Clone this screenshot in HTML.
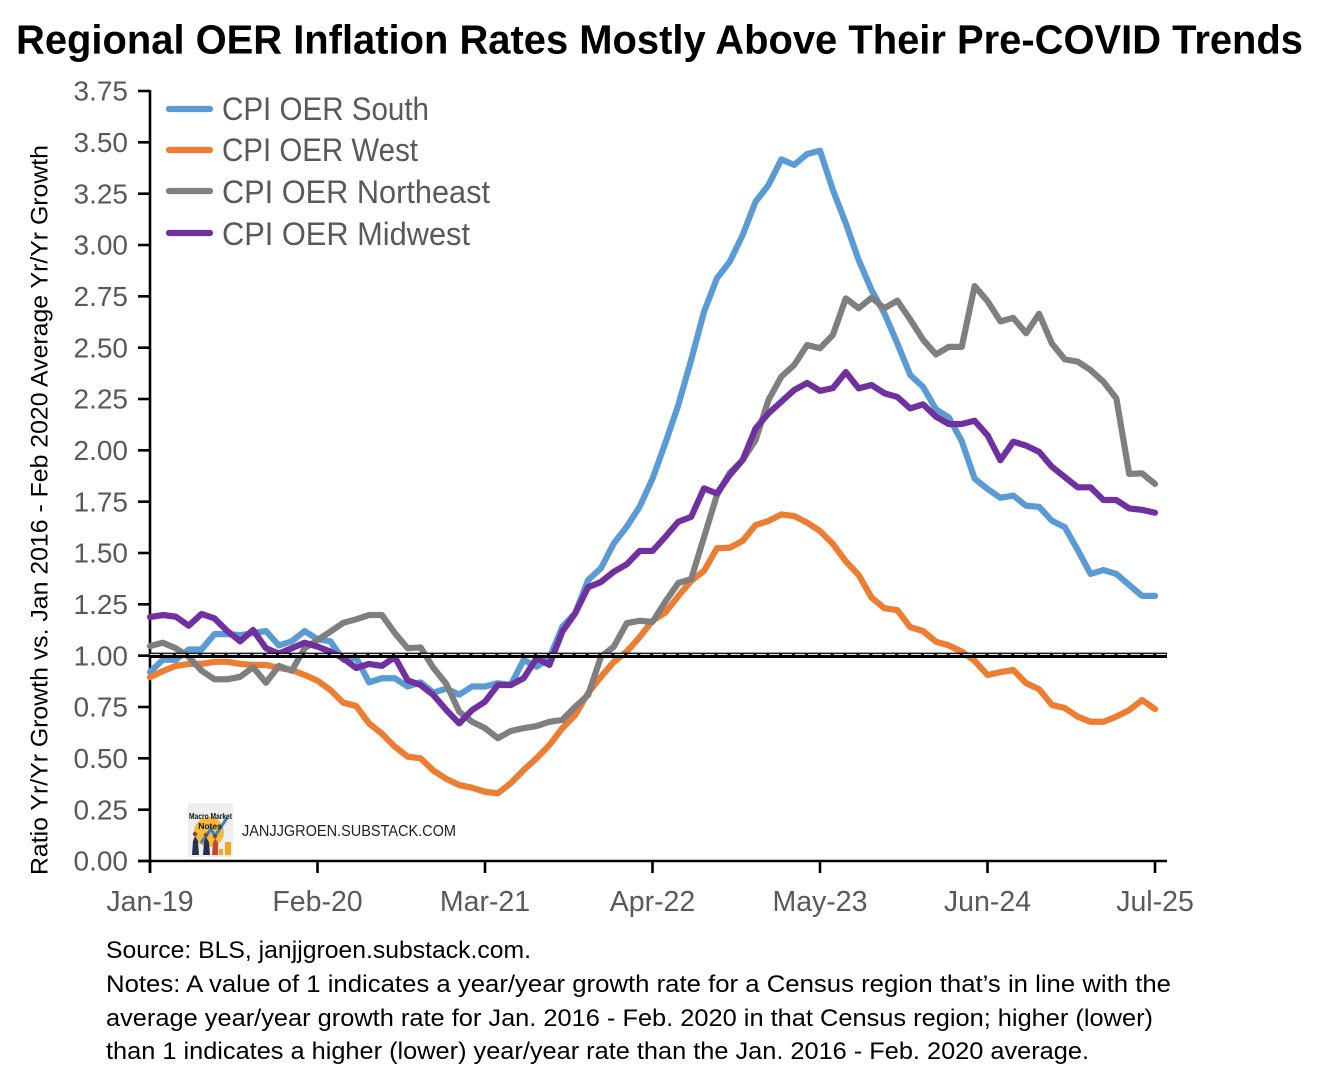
<!DOCTYPE html>
<html lang="en">
<head>
<meta charset="utf-8">
<title>Regional OER Inflation Rates</title>
<style>
html,body{margin:0;padding:0;background:#fff;}
#chart{display:block;width:1317px;height:1080px;font-family:"Liberation Sans",Arial,sans-serif;}
</style>
</head>
<body>
<svg id="chart" xmlns="http://www.w3.org/2000/svg" width="1317" height="1080" viewBox="0 0 1317 1080">
  <rect x="0" y="0" width="1317" height="1080" fill="#ffffff"/>
  <text x="16" y="53.5" font-size="40.5" font-weight="bold" fill="#000" textLength="1287" lengthAdjust="spacingAndGlyphs">Regional OER Inflation Rates Mostly Above Their Pre-COVID Trends</text>
  <g id="axes"></g>
  <g id="series"></g>
  <g id="reference"></g>
  <g id="legend"></g>
  <text transform="translate(47.5,510) rotate(-90)" text-anchor="middle" font-size="24.5" fill="#000" textLength="730" lengthAdjust="spacingAndGlyphs">Ratio Yr/Yr Growth vs. Jan 2016 - Feb 2020 Average Yr/Yr Growth</text>

  <g>
    <rect x="188" y="803" width="45" height="54" fill="#efefef"/>
    <circle cx="209" cy="832" r="15" fill="#f6b93b"/>
    <path d="M201 843 L211 829 L215 836 L227 818" fill="none" stroke="#3f7fc4" stroke-width="3"/>
    <text x="210.5" y="819" text-anchor="middle" font-size="8.5" font-weight="bold" fill="#111" textLength="43" lengthAdjust="spacingAndGlyphs">Macro Market</text>
    <text x="210" y="829" text-anchor="middle" font-size="8.5" font-weight="bold" fill="#111">Notes</text>
    <path d="M192 855 L193 841 L195 836 L198 841 L199 855 Z" fill="#27324f"/>
    <circle cx="195" cy="834" r="2.2" fill="#7a4a30"/>
    <path d="M203 855 L204 842 L206 837 L209 842 L210 855 Z" fill="#27324f"/>
    <circle cx="206" cy="835" r="2.2" fill="#7a4a30"/>
    <path d="M212 855 L213 843 L215 838 L218 843 L218 855 Z" fill="#c9442f"/>
    <circle cx="215" cy="836" r="2.2" fill="#7a4a30"/>
    <rect x="219" y="849" width="4" height="6" fill="#f5a623"/>
    <rect x="225" y="842" width="6" height="13" fill="#f5a623"/>
  </g>
  <text x="242" y="836" font-size="15.5" fill="#222" textLength="214" lengthAdjust="spacingAndGlyphs">JANJJGROEN.SUBSTACK.COM</text>

  <g font-size="24.5" fill="#000">
    <text x="106" y="958" textLength="425" lengthAdjust="spacingAndGlyphs">Source: BLS, janjjgroen.substack.com.</text>
    <text x="106" y="992" textLength="1065" lengthAdjust="spacingAndGlyphs">Notes: A value of 1 indicates a year/year growth rate for a Census region that’s in line with the</text>
    <text x="106" y="1026" textLength="1047" lengthAdjust="spacingAndGlyphs">average year/year growth rate for Jan. 2016 - Feb. 2020 in that Census region; higher (lower)</text>
    <text x="106" y="1059" textLength="983" lengthAdjust="spacingAndGlyphs">than 1 indicates a higher (lower) year/year rate than the Jan. 2016 - Feb. 2020 average.</text>
  </g>
</svg>

<script>
const yTicks = [0, 0.25, 0.5, 0.75, 1, 1.25, 1.5, 1.75, 2, 2.25, 2.5, 2.75, 3, 3.25, 3.5, 3.75];
const xTickMonths = [0, 13, 26, 39, 52, 65, 78];
const xTickLabels = ["Jan-19", "Feb-20", "Mar-21", "Apr-22", "May-23", "Jun-24", "Jul-25"];
const referenceValue = 1;

const south = [0.92,0.98,0.98,1.03,1.03,1.105,1.105,1.10,1.11,1.12,1.05,1.07,1.12,1.08,1.07,0.98,0.99,0.87,0.89,0.89,0.85,0.87,0.82,0.84,0.81,0.85,0.85,0.866,0.857,0.979,0.946,0.987,1.141,1.207,1.368,1.426,1.547,1.628,1.725,1.862,2.036,2.22,2.44,2.675,2.838,2.919,3.049,3.211,3.292,3.417,3.39,3.443,3.459,3.268,3.106,2.927,2.781,2.667,2.521,2.367,2.309,2.2,2.16,2.045,1.862,1.812,1.769,1.78,1.73,1.725,1.657,1.626,1.515,1.398,1.417,1.398,1.344,1.291,1.291];
const west = [0.895,0.925,0.95,0.96,0.96,0.97,0.97,0.96,0.955,0.955,0.94,0.93,0.906,0.878,0.833,0.771,0.755,0.67,0.62,0.557,0.508,0.50,0.44,0.40,0.37,0.357,0.337,0.33,0.379,0.443,0.5,0.565,0.647,0.711,0.818,0.897,0.97,1.02,1.09,1.17,1.21,1.29,1.364,1.413,1.523,1.526,1.559,1.636,1.656,1.688,1.68,1.648,1.607,1.544,1.46,1.393,1.283,1.231,1.222,1.139,1.12,1.068,1.05,1.02,0.975,0.906,0.92,0.93,0.866,0.837,0.76,0.745,0.703,0.678,0.678,0.703,0.735,0.784,0.74];
const northeast = [1.047,1.063,1.036,0.995,0.927,0.885,0.885,0.897,0.944,0.868,0.95,0.927,1.036,1.076,1.117,1.16,1.177,1.198,1.198,1.11,1.036,1.04,0.94,0.862,0.727,0.678,0.647,0.598,0.633,0.647,0.657,0.678,0.687,0.751,0.808,0.995,1.044,1.158,1.17,1.164,1.263,1.354,1.373,1.578,1.782,1.89,1.953,2.05,2.245,2.359,2.416,2.513,2.497,2.562,2.74,2.692,2.743,2.692,2.729,2.637,2.539,2.467,2.504,2.504,2.80,2.727,2.628,2.645,2.57,2.665,2.52,2.443,2.432,2.391,2.334,2.253,1.885,1.888,1.836];
const midwest = [1.188,1.198,1.19,1.146,1.203,1.182,1.12,1.07,1.125,1.036,1.01,1.036,1.063,1.044,1.02,0.987,0.94,0.96,0.95,0.993,0.88,0.857,0.808,0.735,0.67,0.735,0.776,0.857,0.857,0.89,0.987,0.955,1.117,1.206,1.333,1.359,1.409,1.445,1.51,1.51,1.579,1.652,1.676,1.815,1.79,1.88,1.953,2.107,2.18,2.237,2.294,2.328,2.29,2.303,2.381,2.302,2.318,2.278,2.26,2.204,2.224,2.164,2.128,2.128,2.144,2.074,1.952,2.042,2.023,1.993,1.92,1.87,1.82,1.82,1.758,1.758,1.717,1.71,1.696];

const NS = "http://www.w3.org/2000/svg";
const plot = { left: 150, right: 1155, axisEnd: 1167, top: 91, bottom: 861 };
const monthCount = south.length - 1;
const yMax = yTicks[yTicks.length - 1];
function xScale(month) { return plot.left + (plot.right - plot.left) * month / monthCount; }
function yScale(value) { return plot.bottom - (plot.bottom - plot.top) * value / yMax; }
function make(tag, attrs, parent) {
  const el = document.createElementNS(NS, tag);
  for (const key in attrs) el.setAttribute(key, attrs[key]);
  parent.appendChild(el);
  return el;
}

const axes = document.getElementById("axes");
const yLine = make("line", { x1: plot.left, x2: plot.left, y1: plot.top - 1, y2: plot.bottom + 12, stroke: "#000", "stroke-width": 2.6 }, axes);


const xLine = make("line", { x1: plot.left - 12, x2: plot.axisEnd, y1: plot.bottom, y2: plot.bottom, stroke: "#000", "stroke-width": 2.6 }, axes);



yTicks.forEach(function (tick) {
  const y = yScale(tick);
  const mark = make("line", { x1: plot.left - 12, x2: plot.left, y1: y, y2: y, stroke: "#000", "stroke-width": 2.6 }, axes);
  
  
  const label = make("text", { x: 128, y: y + 9.7, "text-anchor": "end", "font-size": 28, fill: "#595959" }, axes);
  
  
  label.textContent = tick.toFixed(2);
});

xTickMonths.forEach(function (month, i) {
  const x = xScale(month);
  const mark = make("line", { x1: x, x2: x, y1: plot.bottom, y2: plot.bottom + 12, stroke: "#000", "stroke-width": 2.6 }, axes);
  
  
  const label = make("text", { x: x, y: 911, "text-anchor": "middle", "font-size": 28.5, fill: "#595959" }, axes);
  
  
  label.textContent = xTickLabels[i];
});

const seriesGroup = document.getElementById("series");
function drawSeries(values, color, name) {
  const d = values.map(function (v, i) {
    return (i ? "L" : "M") + xScale(i).toFixed(2) + " " + yScale(v).toFixed(2);
  }).join(" ");
  const path = make("path", { d: d, fill: "none", stroke: color, "stroke-width": 6.2, "stroke-linecap": "round", "stroke-linejoin": "round" }, seriesGroup);
  
  
}
drawSeries(south, "#5B9BD5", "line-cpi-oer-south");
drawSeries(west, "#ED7D31", "line-cpi-oer-west");
drawSeries(northeast, "#7F7F7F", "line-cpi-oer-northeast");
drawSeries(midwest, "#7030A0", "line-cpi-oer-midwest");

const refGroup = document.getElementById("reference");
const refY = yScale(referenceValue);
const refSolid = make("line", { x1: plot.left, x2: plot.axisEnd, y1: refY - 0.4, y2: refY - 0.4, stroke: "#000", "stroke-width": 5.4 }, refGroup);


const refDash = make("line", { x1: plot.left, x2: plot.axisEnd, y1: refY - 1.3, y2: refY - 1.3, stroke: "#fff", "stroke-width": 1.1, "stroke-dasharray": "9.9 3" }, refGroup);



const legendGroup = document.getElementById("legend");
function drawLegendEntry(label, color, lineY, baseY, textWidth, name) {
  const swatch = make("line", { x1: 169, x2: 210, y1: lineY, y2: lineY, stroke: color, "stroke-width": 6.2, "stroke-linecap": "round" }, legendGroup);
  
  
  const text = make("text", { x: 222, y: baseY, "font-size": 32, fill: "#595959", textLength: textWidth, lengthAdjust: "spacingAndGlyphs" }, legendGroup);
  
  
  text.textContent = label;
}
drawLegendEntry("CPI OER South", "#5B9BD5", 109, 120, 207, "legend-entry-south");
drawLegendEntry("CPI OER West", "#ED7D31", 150, 161, 196, "legend-entry-west");
drawLegendEntry("CPI OER Northeast", "#7F7F7F", 191, 203, 268, "legend-entry-northeast");
drawLegendEntry("CPI OER Midwest", "#7030A0", 233, 245, 248, "legend-entry-midwest");
</script>
</body>
</html>
